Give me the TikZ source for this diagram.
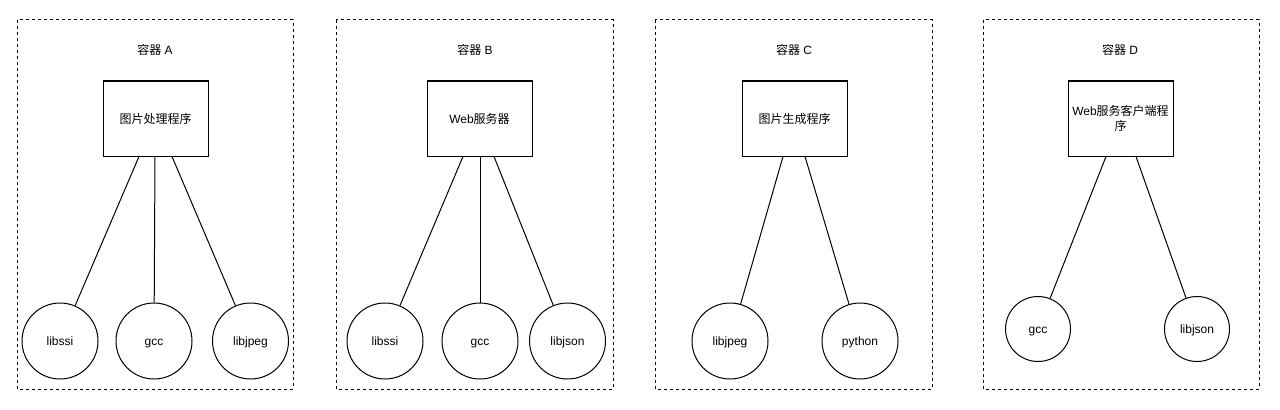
\documentclass[tikz,border=0pt]{standalone}
\usepackage{fontspec}
\setmainfont{Liberation Sans}
\newfontfamily\cjk{Noto Sans CJK SC}
\newcommand{\zh}[1]{{\cjk #1}}
\usetikzlibrary{positioning,calc}

\begin{document}
\begin{tikzpicture}[
    x=0.75pt, y=-0.75pt,
    font=\fontsize{9pt}{11.25pt}\selectfont,
    container/.style={draw, line width=0.75pt, dash pattern=on 2.25pt off 2.25pt},
    title/.style={inner sep=0pt, text height=1.6ex, text depth=0.3ex},
    proc/.style={rectangle, draw, line width=0.75pt, minimum width=78.75pt, minimum height=56.25pt, align=center, inner sep=1pt},
    lib/.style={circle, draw, line width=0.75pt, minimum size=57pt, inner sep=0pt, text height=1.6ex, text depth=0.3ex},
    smalllib/.style={lib, minimum size=48.75pt},
    link/.style={draw, line width=0.75pt}
]
\fill[white] (0,0) rectangle (1280,410);

% Container A
\draw[container] (17,20) rectangle (293,389);
\node[title] (titleA) at (155,50) {\zh{容器} A};
\node[proc] (procA) at (155.5,118.5) {\zh{图片处理程序}};
\node[lib] (libssiA) at (60,341) {libssi};
\node[lib] (gccA) at (154,341) {gcc};
\node[lib] (libjpegA) at (250.5,341) {libjpeg};

% Container B
\draw[container] (336,20) rectangle (613,389);
\node[title] (titleB) at (475,50) {\zh{容器} B};
\node[proc] (procB) at (479.5,118.5) {Web\zh{服务器}};
\node[lib] (libssiB) at (385,341) {libssi};
\node[lib] (gccB) at (480,341) {gcc};
\node[lib] (libjsonB) at (567.5,341) {libjson};

% Container C
\draw[container] (655,20) rectangle (932,389);
\node[title] (titleC) at (794,50) {\zh{容器} C};
\node[proc] (procC) at (794.5,118.5) {\zh{图片生成程序}};
\node[lib] (libjpegC) at (730,341) {libjpeg};
\node[lib] (pythonC) at (860,341) {python};

% Container D
\draw[container] (983,20) rectangle (1259,389);
\node[title] (titleD) at (1120,50) {\zh{容器} D};
\node[proc] (procD) at (1120.5,118.5) {Web\zh{服务客户端程}\\\zh{序}};
\node[smalllib] (gccD) at (1038,329) {gcc};
\node[smalllib] (libjsonD) at (1197,329) {libjson};

% Links
\draw[link] ($(procA.south)+(-16.5,0)$) -- (libssiA);
\draw[link] ($(procA.south)+(-0.5,0)$) -- (gccA);
\draw[link] ($(procA.south)+(16.5,0)$) -- (libjpegA);
\draw[link] ($(procB.south)+(-16.5,0)$) -- (libssiB);
\draw[link] ($(procB.south)+(0.5,0)$) -- (gccB);
\draw[link] ($(procB.south)+(14.5,0)$) -- (libjsonB);
\draw[link] ($(procC.south)+(-11.5,0)$) -- (libjpegC);
\draw[link] ($(procC.south)+(10.5,0)$) -- (pythonC);
\draw[link] ($(procD.south)+(-14.5,0)$) -- (gccD);
\draw[link] ($(procD.south)+(15.5,0)$) -- (libjsonD);

\end{tikzpicture}
\end{document}
